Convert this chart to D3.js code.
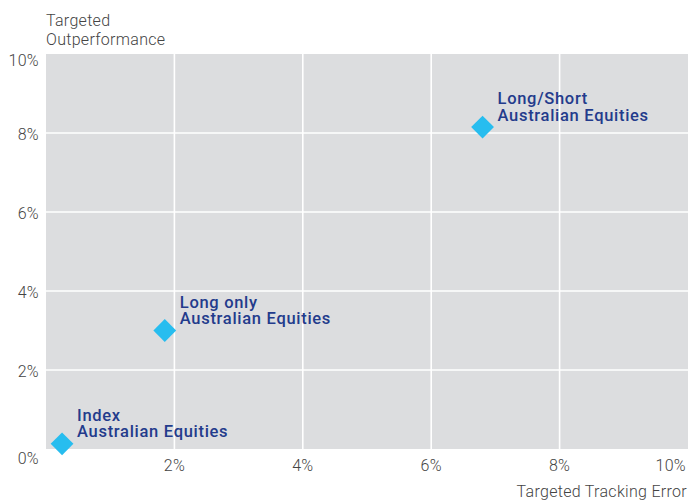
<!DOCTYPE html>
<html><head><meta charset="utf-8">
<script src="https://cdn.jsdelivr.net/npm/d3@7"></script>
<style>body{margin:0;background:#fff;} svg{display:block;}</style>
</head><body>
<svg id="c" width="688" height="500"></svg>
<script>
const names = [["Long/Short","Australian Equities"],["Long only","Australian Equities"],["Index","Australian Equities"]];
const trackingError = [6.8, 1.85, 0.25];
const outperformance = [8.15, 3.0, 0.13];
const xTicks = [2,4,6,8,10];
const yTicks = [0,2,4,6,8,10];

const svg = d3.select("#c");
const L=46, R=688, T=54, B=449;
const x = d3.scaleLinear().domain([0,10]).range([L,R]);
const y = d3.scaleLinear().domain([0,10]).range([B,T]);
const font = "Roboto, 'Liberation Sans', sans-serif";

svg.append("rect").attr("x",L).attr("y",T).attr("width",R-L).attr("height",B-T).attr("fill","#dcdddf");
svg.append("g").selectAll("line").data(xTicks.filter(d=>d<10)).join("line")
  .attr("x1",d=>x(d)).attr("x2",d=>x(d)).attr("y1",T).attr("y2",B)
  .attr("stroke","#fff").attr("stroke-width",1.6);
svg.append("g").selectAll("line").data(yTicks.filter(d=>d>0&&d<10)).join("line")
  .attr("x1",L).attr("x2",R).attr("y1",d=>y(d)).attr("y2",d=>y(d))
  .attr("stroke","#fff").attr("stroke-width",1.6);

const tickStyle = s => s.attr("font-family",font).attr("font-weight",300)
  .attr("font-size",16).attr("letter-spacing",0.3).attr("fill","#444");

// y tick labels
svg.append("g").selectAll("text").data(yTicks).join("text")
  .attr("x",39).attr("y",d=>y(d) + (d===10?12:(d===0?15:7)))
  .attr("text-anchor","end").call(tickStyle).text(d=>d+"%");
// x tick labels
svg.append("g").selectAll("text").data(xTicks).join("text")
  .attr("x",d=>d===10?686:x(d)).attr("y",471)
  .attr("text-anchor",d=>d===10?"end":"middle").call(tickStyle).text(d=>d+"%");

// axis titles
const yt = svg.append("text").call(tickStyle);
yt.append("tspan").attr("x",46).attr("y",26).text("Targeted");
yt.append("tspan").attr("x",46).attr("y",45).text("Outperformance");
svg.append("text").attr("x",687).attr("y",497).attr("text-anchor","end")
  .call(tickStyle).text("Targeted Tracking Error");

// points
const sym = d3.symbol().type(d3.symbolSquare).size(260);
svg.append("g").selectAll("path").data(trackingError).join("path")
  .attr("d",sym)
  .attr("transform",(d,i)=>`translate(${x(d)},${y(outperformance[i])}) rotate(45)`)
  .attr("fill","#27bdef");

// labels
names.forEach((n,i)=>{
  const lx = x(trackingError[i]) + 15, ly = y(outperformance[i]) - 23;
  n.forEach((line,j)=>{
    svg.append("text").attr("x",lx).attr("y",ly+j*16.5)
      .attr("font-family",font).attr("font-weight",500)
      .attr("font-size",16.5).attr("letter-spacing",0.7).attr("fill","#233b8c")
      .text(line);
  });
});
</script>
</body></html>
